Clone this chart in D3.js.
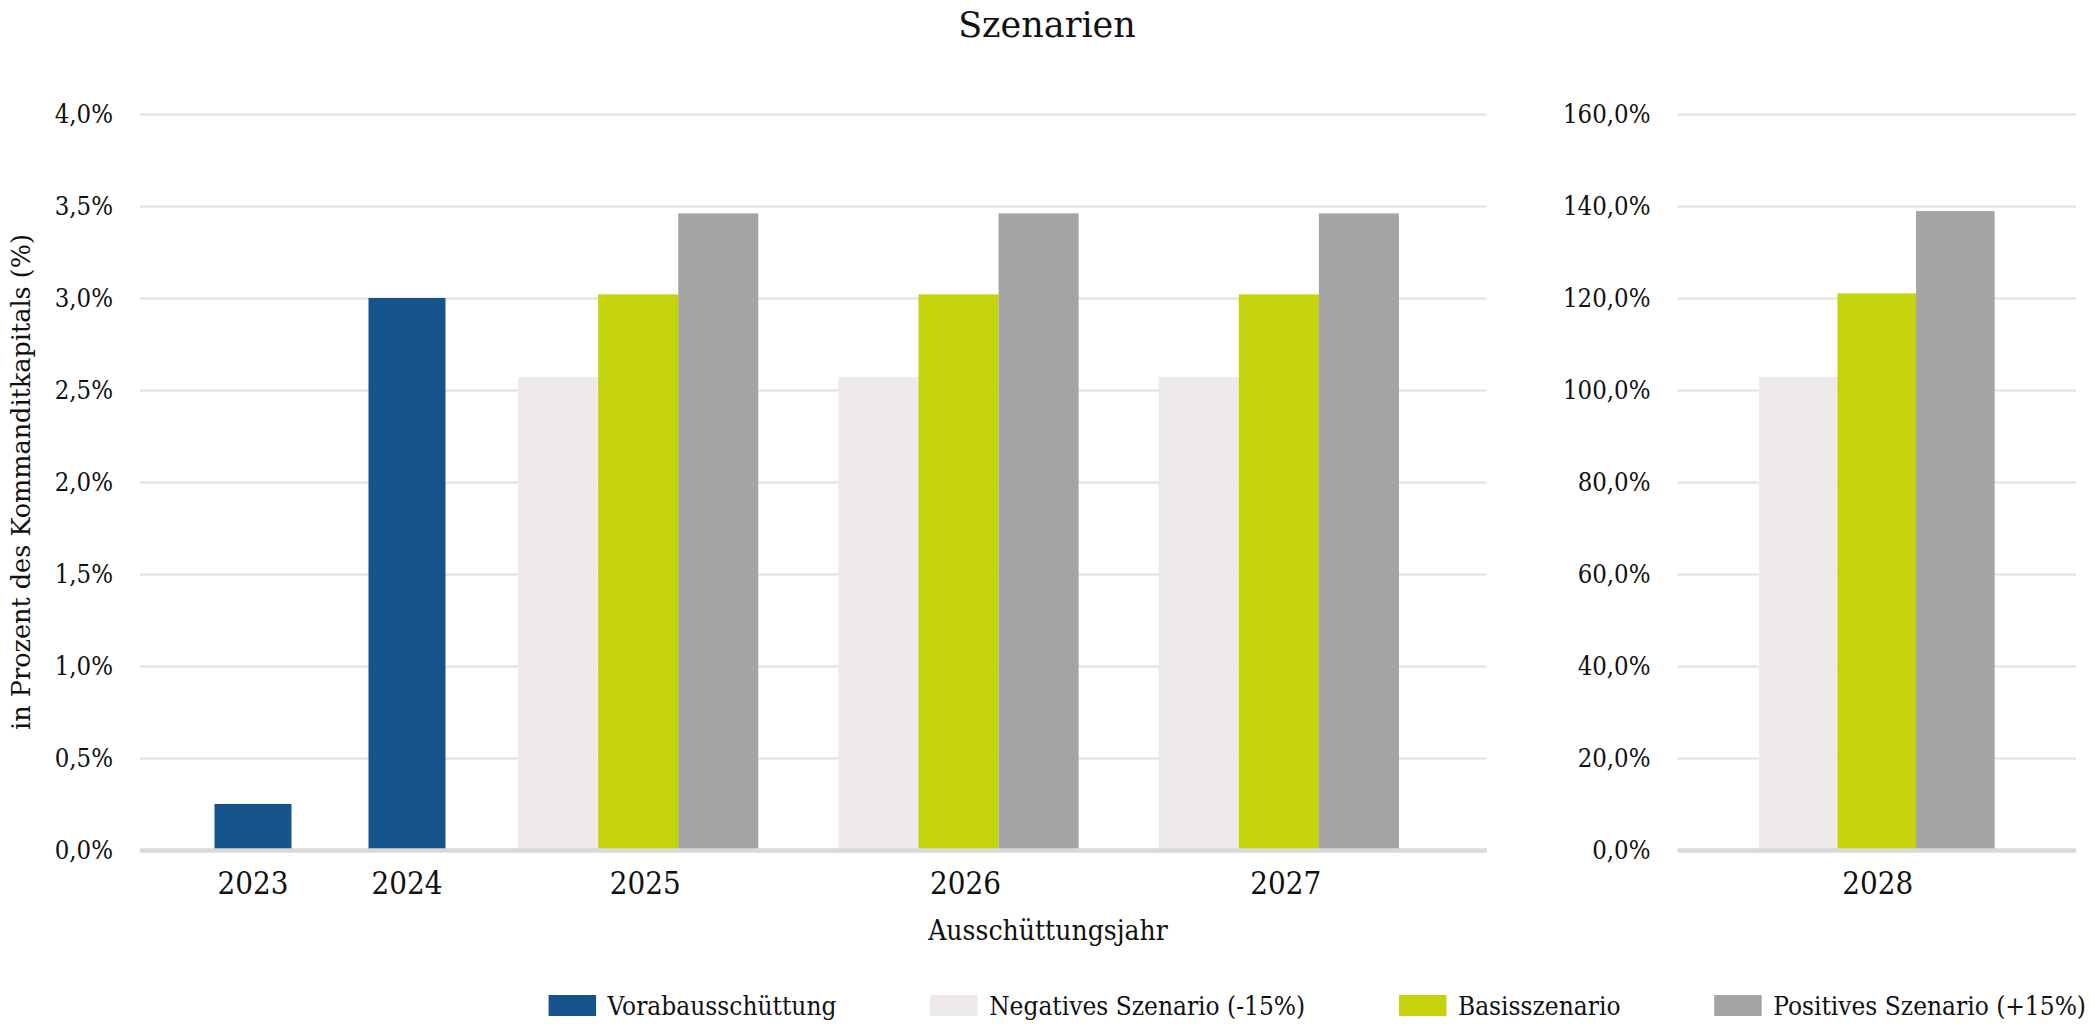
<!DOCTYPE html>
<html>
<head>
<meta charset="utf-8">
<script src="https://cdn.jsdelivr.net/npm/d3@7"></script>
<style>
  body { margin: 0; background: #fff; }
  svg text { fill: #111; }
  .cond { font-family: "DejaVu Serif", serif; font-stretch: condensed; }
  .reg { font-family: "DejaVu Serif", serif; }
</style>
</head>
<body>
<div id="chart"></div>
<script>
// --- data ---
const vorabYears = ["2023", "2024"];
const vorabValues = [0.25, 3.0];

const scenarioYears = ["2025", "2026", "2027"];
const negativeValues = [2.57, 2.57, 2.57];
const basisValues = [3.02, 3.02, 3.02];
const positiveValues = [3.46, 3.46, 3.46];

const finalYear = ["2028"];
const finalNegative = [102.8];
const finalBasis = [121.0];
const finalPositive = [138.9];

const leftTicks = [0, 0.5, 1, 1.5, 2, 2.5, 3, 3.5, 4];
const rightTicks = [0, 20, 40, 60, 80, 100, 120, 140, 160];

const seriesNames = ["Vorabausschüttung", "Negatives Szenario (-15%)", "Basisszenario", "Positives Szenario (+15%)"];
const seriesColors = ["#15548b", "#eeeaea", "#c5d30c", "#a5a4a5"];

const width = 2095, height = 1024;

const svg = d3.select("#chart").append("svg")
    .attr("width", width)
    .attr("height", height);

const de = d3.formatLocale({ decimal: ",", thousands: ".", grouping: [3], currency: ["", " €"] });
const fmt = d => de.format(".1f")(d) + "%";

// y scales (left panel in %, right panel 2028 in %)
const yLeft = d3.scaleLinear().domain([0, 4]).range([850, 114]);
const yRight = d3.scaleLinear().domain([0, 160]).range([850, 114]);

const leftX0 = 140, leftX1 = 1487;
const rightX0 = 1677.5, rightX1 = 2076;

// x scales
const xVorab = d3.scaleBand().domain(vorabYears).range([176, 484]).paddingInner(0.5).paddingOuter(0.25);
const xGroup = d3.scaleBand().domain(scenarioYears).range([478, 1439]).paddingInner(0.25).paddingOuter(0.125);
const xFinal = d3.scaleBand().domain(finalYear).range([rightX0, rightX1]).paddingOuter(0.345);
const scen = seriesNames.slice(1);
const xSub = d3.scaleBand().domain(scen).range([0, xGroup.bandwidth()]);
const xSubFinal = d3.scaleBand().domain(scen).range([0, xFinal.bandwidth()]);

// gridlines + tick labels
function gridAxis(scale, ticks, x0, x1) {
    const g = svg.append("g")
        .attr("transform", `translate(${x0},0)`)
        .call(d3.axisLeft(scale).tickValues(ticks).tickFormat(fmt)
            .tickSize(-(x1 - x0)).tickPadding(27));
    g.select(".domain").remove();
    g.selectAll(".tick line").attr("stroke", "#e0e0e0").attr("stroke-width", 2);
    g.selectAll(".tick text").attr("class", "cond").attr("font-size", 25.5).attr("fill", "#111");
    return g;
}
gridAxis(yLeft, leftTicks, leftX0, leftX1);
gridAxis(yRight, rightTicks, rightX0, rightX1);

// bars
svg.append("g").selectAll("rect")
    .data(vorabYears.map((y, i) => ({ year: y, value: vorabValues[i] })))
    .join("rect")
    .attr("x", d => xVorab(d.year))
    .attr("width", xVorab.bandwidth())
    .attr("y", d => yLeft(d.value))
    .attr("height", d => yLeft(0) - yLeft(d.value))
    .attr("fill", seriesColors[0]);

const groupData = scenarioYears.map((y, i) => ({
    year: y,
    vals: [negativeValues[i], basisValues[i], positiveValues[i]]
}));
svg.append("g").selectAll("g")
    .data(groupData)
    .join("g")
    .attr("transform", d => `translate(${xGroup(d.year)},0)`)
    .selectAll("rect")
    .data(d => d.vals.map((v, j) => ({ key: scen[j], value: v, c: seriesColors[j + 1] })))
    .join("rect")
    .attr("x", d => xSub(d.key))
    .attr("width", xSub.bandwidth())
    .attr("y", d => yLeft(d.value))
    .attr("height", d => yLeft(0) - yLeft(d.value))
    .attr("fill", d => d.c);

const finalData = finalYear.map((y, i) => ({
    year: y,
    vals: [finalNegative[i], finalBasis[i], finalPositive[i]]
}));
svg.append("g").selectAll("g")
    .data(finalData)
    .join("g")
    .attr("transform", d => `translate(${xFinal(d.year)},0)`)
    .selectAll("rect")
    .data(d => d.vals.map((v, j) => ({ key: scen[j], value: v, c: seriesColors[j + 1] })))
    .join("rect")
    .attr("x", d => xSubFinal(d.key))
    .attr("width", xSubFinal.bandwidth())
    .attr("y", d => yRight(d.value))
    .attr("height", d => yRight(0) - yRight(d.value))
    .attr("fill", d => d.c);

// baselines
[[leftX0, leftX1], [rightX0, rightX1]].forEach(([a, b]) => {
    svg.append("line")
        .attr("x1", a).attr("x2", b)
        .attr("y1", yLeft(0) + 0.5).attr("y2", yLeft(0) + 0.5)
        .attr("stroke", "#d9d9d9").attr("stroke-width", 4.5);
});

// x axis labels (Excel puts them a bit right of the group centre)
function yearAxis(scale, shift) {
    const g = svg.append("g")
        .attr("transform", `translate(${shift},${yLeft(0) + 14})`)
        .call(d3.axisBottom(scale).tickSize(0).tickPadding(8));
    g.select(".domain").remove();
    g.selectAll(".tick text").attr("class", "cond").attr("font-size", 31).attr("fill", "#111");
}
yearAxis(xVorab, 0);
yearAxis(xGroup, 7);
yearAxis(xFinal, 1);

// titles
svg.append("text")
    .attr("class", "reg")
    .attr("x", 1047).attr("y", 37)
    .attr("text-anchor", "middle")
    .attr("font-size", 35)
    .text("Szenarien");

svg.append("text")
    .attr("class", "cond")
    .attr("x", 1048).attr("y", 940)
    .attr("text-anchor", "middle")
    .attr("font-size", 28)
    .text("Ausschüttungsjahr");

svg.append("text")
    .attr("class", "reg")
    .attr("transform", `translate(30,${(yLeft(0) + yLeft(4)) / 2}) rotate(-90)`)
    .attr("text-anchor", "middle")
    .attr("font-size", 25.5)
    .text("in Prozent des Kommanditkapitals (%)");

// legend: items spread between the measured start and end
const legendStart = 548.6, legendEnd = 2086;
const legend = svg.append("g").attr("transform", `translate(${legendStart},995)`);
const items = seriesNames.map((name, i) => {
    const item = legend.append("g");
    item.append("rect")
        .attr("width", 47.5).attr("height", 21)
        .attr("fill", seriesColors[i]);
    const t = item.append("text")
        .attr("class", "cond")
        .attr("x", 59).attr("y", 20)
        .attr("font-size", 26)
        .text(name);
    return { item, w: 59 + t.node().getComputedTextLength() };
});
const gap = (legendEnd - legendStart - d3.sum(items, d => d.w)) / (items.length - 1);
let cursor = 0;
items.forEach(d => {
    d.item.attr("transform", `translate(${cursor},0)`);
    cursor += d.w + gap;
});
</script>
</body>
</html>
